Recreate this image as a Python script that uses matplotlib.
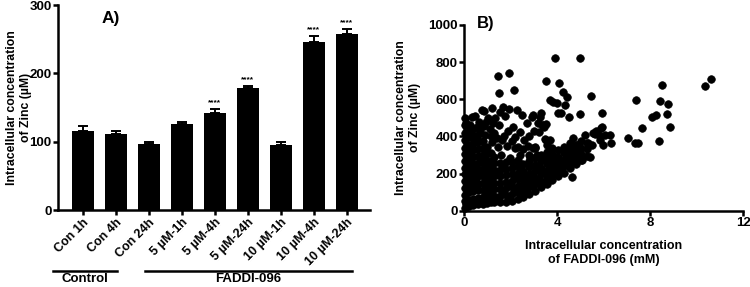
import matplotlib
matplotlib.use("Agg")
import matplotlib.pyplot as plt
import numpy as np

plt.rcParams['font.family'] = ['Liberation Sans', 'DejaVu Sans']
plt.rcParams['font.weight'] = 'bold'
plt.rcParams['axes.labelweight'] = 'bold'

# Panel A: intracellular zinc per treatment (uM), mean and upper error
groups = ["Con 1h", "Con 4h", "Con 24h", "5 µM-1h", "5 µM-4h", "5 µM-24h",
          "10 µM-1h", "10 µM-4h", "10 µM-24h"]
zinc_mean = [115.6, 110.8, 97, 126, 142, 178, 96, 246, 258.5]
zinc_err = [7.5, 5.5, 3, 3, 6, 3.5, 4, 9.5, 6.5]
stars = ["", "", "", "", "****", "****", "", "****", "****"]

# Panel B: zinc (uM) vs FADDI-096 (mM)
blob_points = [
    (0.03, 15), (0.03, 50), (0.03, 85), (0.03, 120), (0.03, 160), (0.03, 195), (0.03, 230),
    (0.03, 270), (0.03, 305), (0.03, 340), (0.03, 380), (0.03, 420), (0.03, 460),
    (0.2, 25), (0.2, 60), (0.2, 100), (0.2, 135), (0.2, 170), (0.2, 210), (0.2, 245),
    (0.2, 280), (0.2, 320), (0.2, 355), (0.2, 395), (0.2, 430),
    (0.4, 30), (0.4, 65), (0.4, 105), (0.4, 140), (0.4, 175), (0.4, 215), (0.4, 250),
    (0.4, 290), (0.4, 325), (0.4, 365), (0.4, 400), (0.4, 440),
    (0.6, 35), (0.6, 70), (0.6, 110), (0.6, 145), (0.6, 185), (0.6, 220), (0.6, 255),
    (0.6, 295), (0.6, 330), (0.6, 370), (0.6, 410),
    (0.8, 38), (0.8, 75), (0.8, 112), (0.8, 150), (0.8, 188), (0.8, 225), (0.8, 262),
    (0.8, 300), (0.8, 338), (0.8, 375),
    (1.0, 42), (1.0, 80), (1.0, 118), (1.0, 155), (1.0, 192), (1.0, 230), (1.0, 268),
    (1.0, 305), (1.0, 345),
    (1.15, 44), (1.15, 82), (1.15, 120), (1.15, 158), (1.15, 195), (1.15, 232),
    (1.15, 270), (1.15, 310),
    (0.1, 35), (0.3, 45), (0.5, 50), (0.7, 55), (0.9, 60), (0.12, 140), (0.32, 190),
    (0.52, 240), (0.72, 280), (0.92, 320), (0.15, 300), (0.35, 345), (0.55, 385),
    (0.3, 120), (0.5, 160), (0.7, 200), (0.9, 240), (1.08, 100), (1.08, 175),
]
band_points = [
    (1.3, 45), (1.3, 80), (1.3, 115), (1.3, 150), (1.3, 185), (1.3, 220), (1.3, 255), (1.3, 290),
    (1.55, 46), (1.55, 80), (1.55, 115), (1.55, 150), (1.55, 185), (1.55, 220), (1.55, 255),
    (1.8, 48), (1.8, 85), (1.8, 120), (1.8, 155), (1.8, 190), (1.8, 225), (1.8, 260),
    (2.05, 52), (2.05, 88), (2.05, 125), (2.05, 160), (2.05, 195), (2.05, 230), (2.05, 262),
    (2.3, 62), (2.3, 98), (2.3, 135), (2.3, 170), (2.3, 205), (2.3, 240), (2.3, 275),
    (2.55, 75), (2.55, 110), (2.55, 145), (2.55, 180), (2.55, 215), (2.55, 250),
    (2.8, 92), (2.8, 128), (2.8, 163), (2.8, 198), (2.8, 233), (2.8, 268), (2.8, 300),
    (3.05, 108), (3.05, 143), (3.05, 178), (3.05, 213), (3.05, 248), (3.05, 283),
    (3.3, 125), (3.3, 160), (3.3, 195), (3.3, 230), (3.3, 265), (3.3, 300),
    (3.55, 145), (3.55, 180), (3.55, 215), (3.55, 250), (3.55, 285), (3.55, 318),
    (3.8, 165), (3.8, 200), (3.8, 235), (3.8, 270), (3.8, 305), (3.8, 335),
    (4.05, 185), (4.05, 220), (4.05, 255), (4.05, 290), (4.05, 325),
    (4.3, 205), (4.3, 240), (4.3, 275), (4.3, 310), (4.3, 345),
    (4.55, 228), (4.55, 262), (4.55, 297), (4.55, 332), (4.55, 365),
    (4.8, 250), (4.8, 285), (4.8, 320), (4.8, 355),
    (5.05, 273), (5.05, 305), (5.05, 340), (5.05, 375),
    (5.3, 295), (5.3, 330), (5.3, 365), (5.42, 291),
    (1.42, 62), (1.68, 100), (1.92, 140), (2.18, 180), (2.42, 118), (2.68, 160),
    (2.92, 200), (3.18, 240), (3.42, 210), (3.68, 255), (3.92, 290), (4.18, 265),
    (4.42, 300), (4.68, 310), (4.92, 330), (1.42, 200), (1.68, 240), (1.92, 70),
    (2.18, 108), (2.42, 225), (2.68, 95), (2.92, 140), (3.18, 170), (3.42, 150),
    (3.68, 190), (3.92, 225), (4.18, 230), (4.42, 260), (4.68, 270), (4.92, 295),
]
cloud_points = [
    (0.10, 470), (0.33, 506), (0.55, 450), (0.76, 542), (0.95, 480), (1.19, 551),
    (1.35, 500), (1.55, 530), (1.75, 510), (1.95, 545), (2.27, 542), (2.48, 515),
    (2.70, 471), (2.91, 506), (3.27, 506), (3.41, 462), (0.20, 420), (0.45, 400),
    (0.70, 430), (0.90, 410), (1.10, 440), (1.30, 420), (1.50, 460), (1.70, 400),
    (1.90, 430), (2.10, 450), (2.19, 398), (2.41, 425), (2.60, 380), (2.80, 400),
    (3.00, 430), (1.20, 370), (1.45, 345), (1.65, 380), (1.85, 350), (2.05, 375),
    (2.30, 345), (2.55, 330), (2.75, 350), (3.05, 345), (2.19, 336), (2.98, 336),
    (1.98, 282), (2.84, 291), (1.60, 300), (2.40, 300), (3.15, 300), (0.04, 497),
    (0.47, 510), (0.86, 539), (0.65, 480), (1.05, 500), (0.25, 460), (0.85, 455),
    (1.25, 470), (1.40, 390), (1.15, 400),
]
outlier_points = [
    (3.91, 824), (4.99, 824), (1.48, 727), (1.94, 740), (2.15, 650), (1.52, 632),
    (1.69, 560), (3.53, 698), (4.07, 685), (4.27, 641), (4.41, 614), (3.70, 596),
    (3.84, 587), (3.99, 578), (4.34, 569), (4.06, 524), (4.17, 528), (4.53, 506),
    (4.99, 519), (5.46, 618), (5.95, 528), (3.30, 528), (2.95, 515), (3.20, 471),
    (3.34, 462), (3.44, 452), (3.51, 465), (5.91, 447), (7.38, 596), (7.67, 447),
    (7.35, 363), (7.50, 363), (7.07, 392), (8.40, 375), (8.50, 676), (8.43, 588),
    (8.76, 575), (8.74, 522), (8.86, 448), (8.07, 506), (8.24, 517), (10.37, 672),
    (10.62, 708), (5.92, 449), (5.68, 431), (5.63, 413), (5.82, 408), (6.06, 408),
    (6.28, 408), (5.85, 381), (5.99, 354), (6.32, 363), (5.49, 354), (5.20, 408),
    (5.56, 417), (4.70, 390), (4.85, 354), (5.35, 363), (5.06, 273), (4.63, 183),
    (3.48, 385), (3.70, 381), (3.56, 354), (3.05, 336), (3.24, 425), (3.53, 381),
]


def style_axes(ax):
    for side in ("top", "right"):
        ax.spines[side].set_visible(False)
    for side in ("left", "bottom"):
        ax.spines[side].set_linewidth(1.8)
    ax.tick_params(width=1.8, length=3.5, pad=1)


fig = plt.figure(figsize=(7.5, 2.87), dpi=100)

# ---- Panel A ----
ax1 = fig.add_axes([0.0773, 0.268, 0.416, 0.714])
pos = np.arange(len(groups))
ax1.bar(pos, zinc_mean, width=0.66, color="black")
ax1.errorbar(pos, zinc_mean, yerr=[np.zeros(len(pos)), zinc_err], fmt="none",
             ecolor="black", elinewidth=1.4, capsize=3.5, capthick=1.4)
for p, m, e, s in zip(pos, zinc_mean, zinc_err, stars):
    if s:
        ax1.text(p, m + e + 4, s, ha="center", va="bottom", fontsize=6, fontweight="bold")
ax1.set_xlim(-0.76, 8.7)
ax1.set_ylim(0, 300)
ax1.set_yticks([0, 100, 200, 300])
ax1.set_yticklabels(["0", "100", "200", "300"], fontsize=9.5, fontweight="bold")
ax1.set_xticks(pos)
ax1.set_xticklabels(groups, rotation=45, ha="right", rotation_mode="anchor",
                    fontsize=9, fontweight="bold")
style_axes(ax1)
ax1.set_ylabel("Intracellular concentration\nof Zinc (µM)", fontsize=8.8,
               fontweight="bold", linespacing=1.15)
ax1.yaxis.set_label_coords(-0.084, 0.5)
ax1.text(0.85, 280, "A)", fontsize=12.5, ha="center", va="center", fontweight="bold")

# group brackets below the tick labels
for x0, x1, label in [(-0.91, 1.03, "Control"), (1.88, 8.15, "FADDI-096")]:
    ax1.plot([x0, x1], [-0.298, -0.298], color="black", lw=1.8,
             transform=ax1.get_xaxis_transform(), clip_on=False)
    ax1.text((x0 + x1) / 2, -0.338, label, ha="center", va="center", fontsize=9.5,
             fontweight="bold", transform=ax1.get_xaxis_transform())

# ---- Panel B ----
ax2 = fig.add_axes([0.6187, 0.266, 0.372, 0.647])
all_points = blob_points + band_points + cloud_points + outlier_points
xs = [p[0] for p in all_points]
ys = [p[1] for p in all_points]
ax2.scatter(xs, ys, s=30, color="black", edgecolors="black", linewidths=0.5,
            clip_on=False, zorder=3)
ax2.set_xlim(0, 12)
ax2.set_ylim(0, 1000)
ax2.set_xticks([0, 4, 8, 12])
ax2.set_xticklabels(["0", "4", "8", "12"], fontsize=9.5, fontweight="bold")
ax2.set_yticks([0, 200, 400, 600, 800, 1000])
ax2.set_yticklabels(["0", "200", "400", "600", "800", "1000"], fontsize=9.5,
                    fontweight="bold")
style_axes(ax2)
ax2.set_xlabel("Intracellular concentration\nof FADDI-096 (mM)", fontsize=9,
               fontweight="bold", linespacing=1.15)
ax2.xaxis.set_label_coords(0.5, -0.16)
ax2.set_ylabel("Intracellular concentration\nof Zinc (µM)", fontsize=8.8,
               fontweight="bold", linespacing=1.15)
ax2.yaxis.set_label_coords(-0.155, 0.5)
ax2.text(0.55, 1008, "B)", fontsize=12, ha="left", va="center", clip_on=False,
         fontweight="bold")

fig.savefig("out.png", dpi=100)
